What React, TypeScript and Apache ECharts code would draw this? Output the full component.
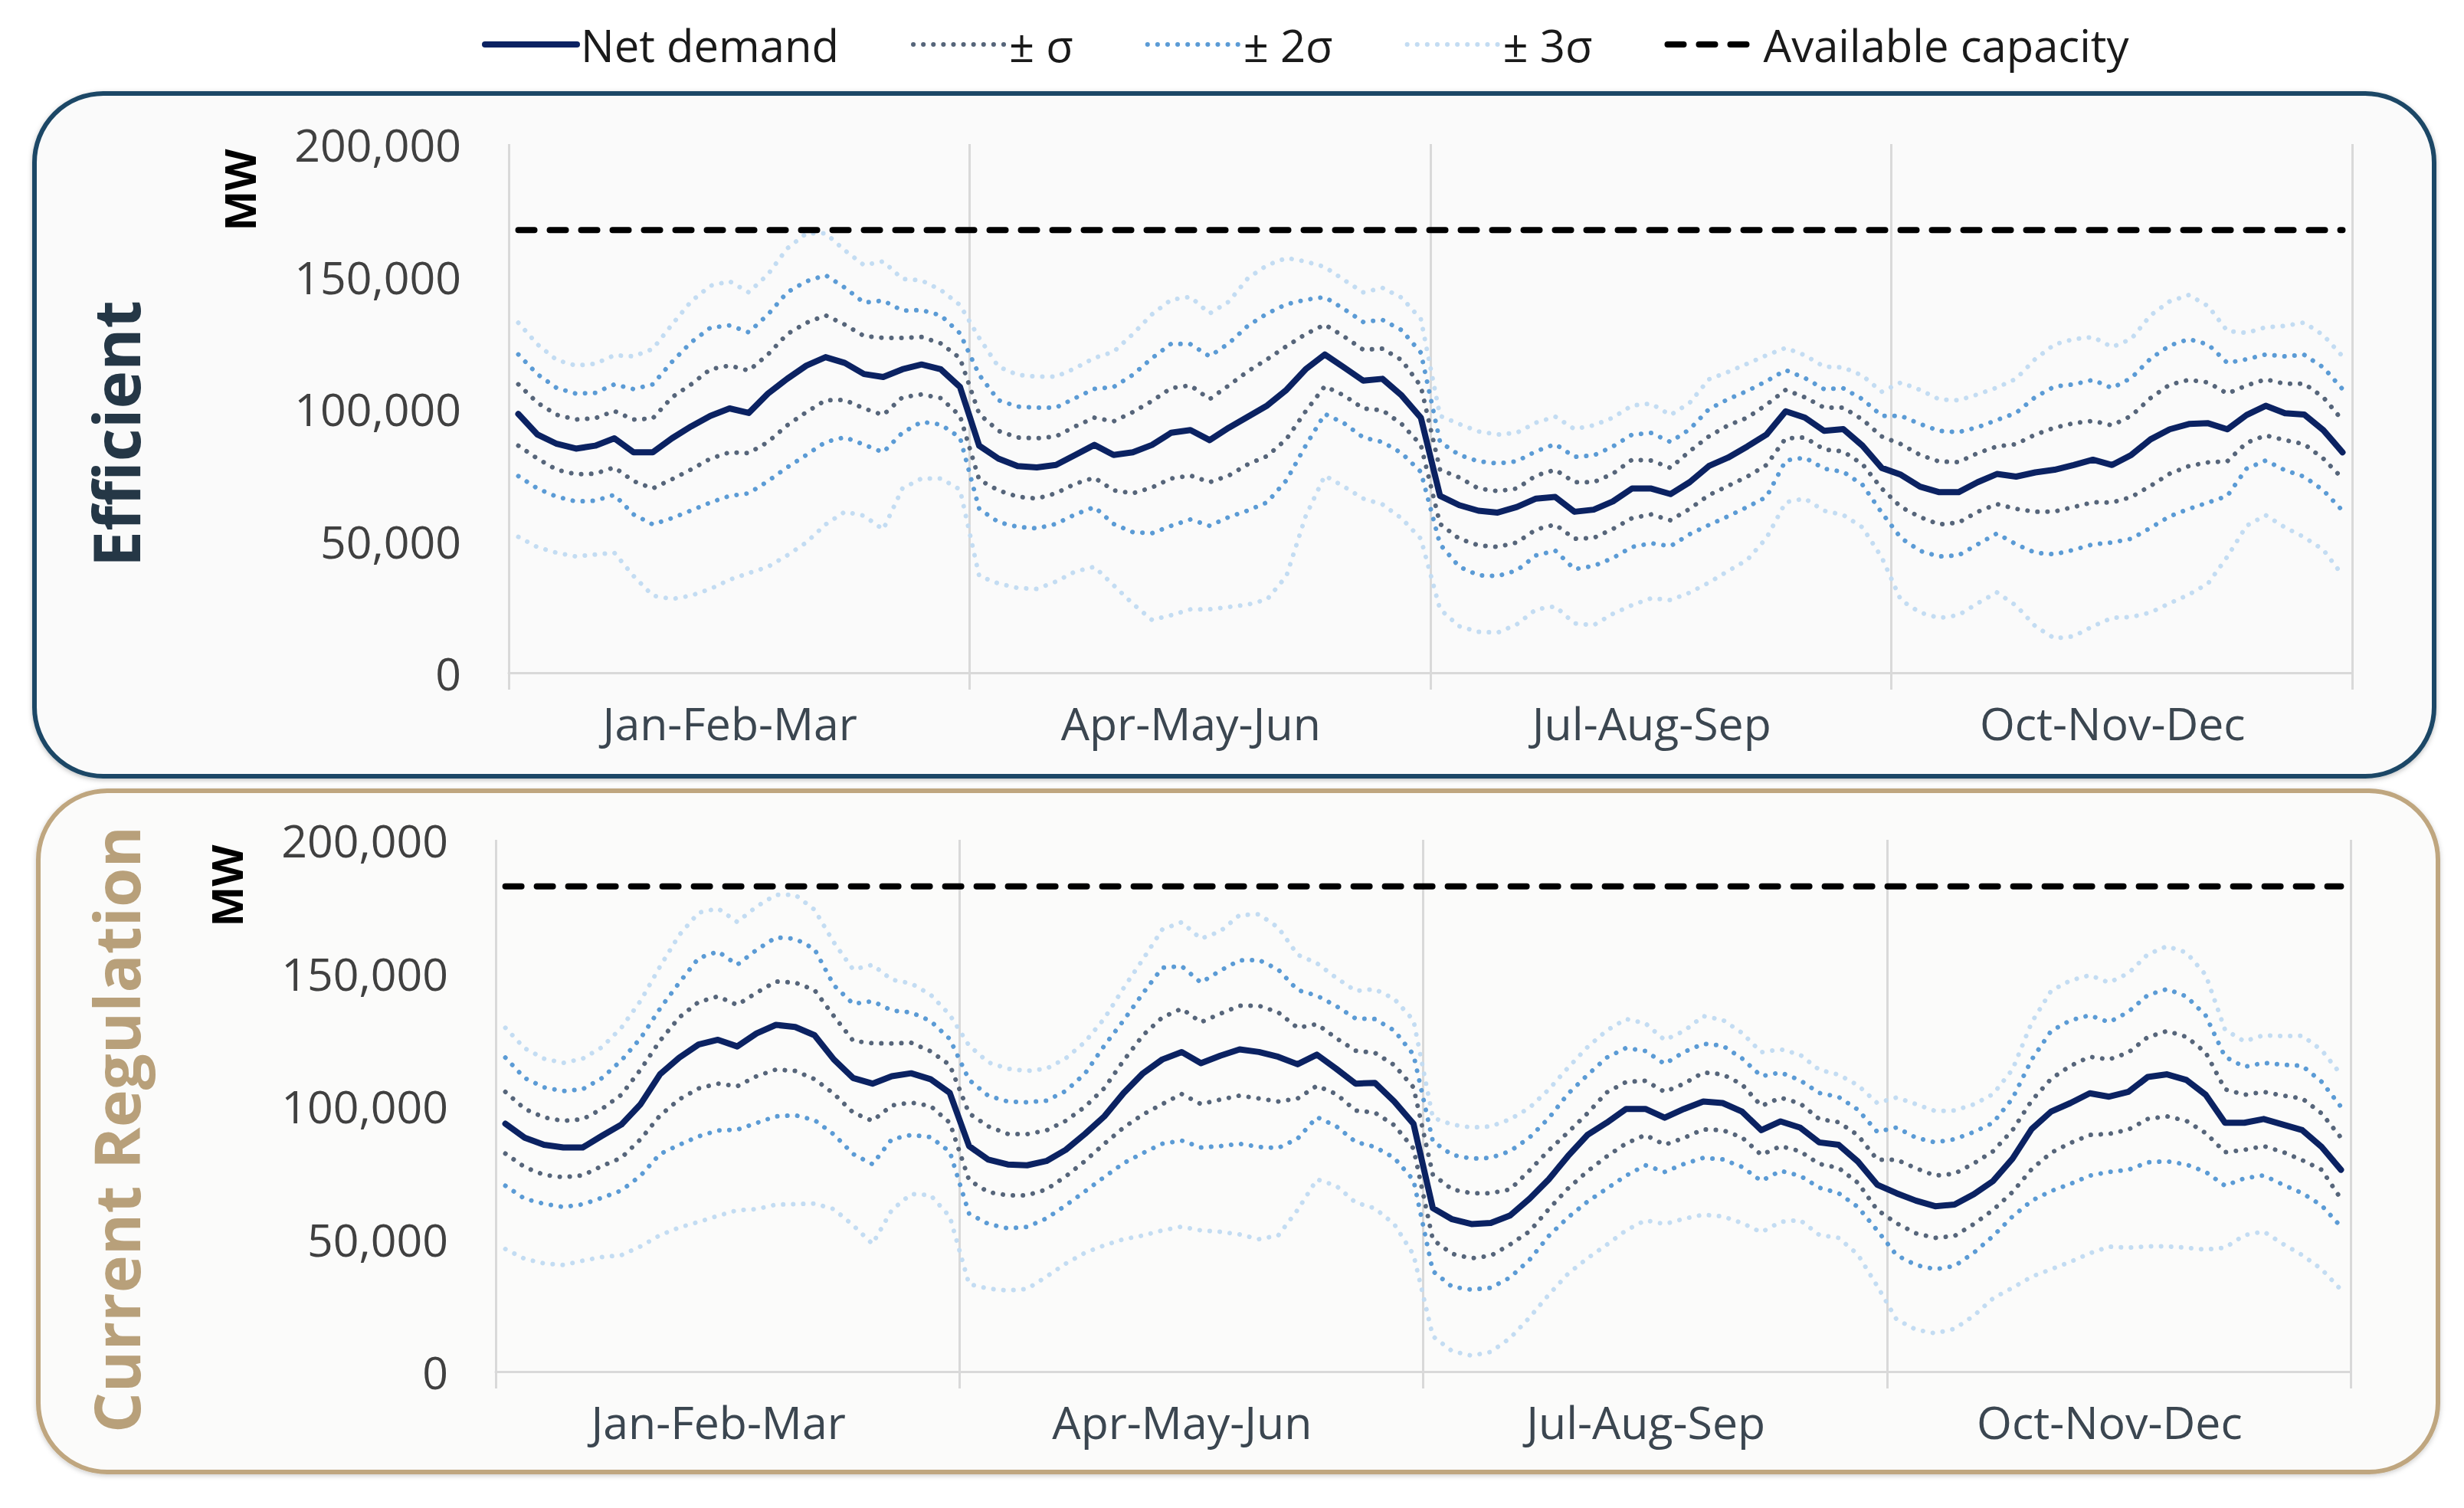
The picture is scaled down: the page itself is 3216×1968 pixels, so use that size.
import React, { useEffect, useRef } from "react";
import * as echarts from "echarts";

// ---------- categories & ticks ----------
const quarters = ["Jan-Feb-Mar", "Apr-May-Jun", "Jul-Aug-Sep", "Oct-Nov-Dec"];
const hours = [
  "00", "01", "02", "03", "04", "05", "06", "07", "08", "09", "10", "11",
  "12", "13", "14", "15", "16", "17", "18", "19", "20", "21", "22", "23",
];
const yMin = 0;
const yMax = 200000;
const yStep = 50000;

// ---------- values in thousand MW ----------
// Efficient
const effNet = [
  97.9, 90.1, 86.6, 84.8, 85.9, 88.7, 83.4, 83.4, 88.7, 93.2, 97.2, 100.0, 98.3, 105.6, 111.2, 116.2, 119.4, 117.2, 113.0, 111.9, 114.8, 116.6, 114.8, 108.1,
  85.9, 81.0, 78.2, 77.7, 78.6, 82.4, 86.2, 82.4, 83.4, 86.2, 90.8, 91.8, 88.0, 92.7, 96.9, 101.1, 107.0, 114.8, 120.4, 115.5, 110.5, 111.2, 104.9, 96.5,
  66.9, 63.4, 61.3, 60.6, 62.7, 65.9, 66.5, 60.9, 61.7, 64.8, 69.7, 69.7, 67.6, 72.1, 78.2, 81.4, 85.6, 90.1, 98.9, 96.5, 91.5, 92.2, 85.9, 77.5,
  74.9, 70.4, 68.3, 68.3, 72.1, 75.2, 74.2, 75.8, 76.8, 78.6, 80.6, 78.6, 82.4, 88.3, 92.1, 94.1, 94.4, 92.1, 97.5, 101.0, 98.2, 97.7, 91.8, 83.4,
];
const effS1Up = [
  109.1, 102.1, 97.6, 95.8, 96.3, 99.0, 95.8, 96.2, 104.2, 109.1, 114.8, 116.2, 114.3, 120.4, 128.1, 132.4, 135.2, 131.7, 127.4, 126.7, 126.7, 127.0, 124.6, 119.0,
  97.9, 91.5, 89.0, 88.7, 89.4, 93.2, 96.5, 95.1, 98.6, 102.8, 107.7, 108.7, 103.5, 108.7, 114.1, 118.6, 123.5, 128.1, 131.7, 127.2, 122.2, 122.6, 118.3, 108.4,
  76.8, 73.9, 69.7, 68.7, 69.7, 74.6, 76.8, 72.1, 72.1, 75.3, 80.6, 80.3, 77.5, 83.8, 89.4, 93.6, 96.5, 101.4, 107.0, 104.2, 100.3, 100.3, 95.8, 89.4,
  86.5, 82.4, 79.9, 79.7, 83.1, 85.6, 86.5, 90.1, 92.7, 94.4, 95.3, 93.6, 97.2, 103.9, 109.0, 110.8, 109.8, 105.6, 108.7, 111.0, 109.3, 109.4, 104.2, 95.5,
];
const effS1Lo = [
  85.9, 81.0, 76.8, 75.1, 75.3, 77.7, 72.5, 69.7, 73.2, 76.9, 81.0, 83.4, 83.1, 87.3, 93.6, 98.6, 103.1, 103.2, 100.0, 97.5, 104.2, 105.3, 103.9, 97.2,
  73.0, 69.0, 66.6, 65.9, 67.9, 71.5, 73.8, 69.0, 67.9, 70.1, 73.5, 74.6, 72.1, 74.6, 78.9, 82.0, 88.4, 98.9, 108.4, 104.9, 100.0, 99.3, 94.1, 86.2,
  56.3, 50.7, 48.2, 47.6, 49.3, 54.2, 56.1, 50.7, 51.0, 54.4, 58.5, 59.9, 57.7, 62.0, 67.2, 70.7, 74.2, 78.6, 88.7, 89.0, 84.5, 83.7, 78.9, 69.7,
  62.7, 58.9, 56.1, 56.8, 60.9, 63.8, 62.0, 60.9, 61.0, 62.7, 64.5, 64.4, 66.5, 70.7, 75.3, 78.2, 79.6, 80.0, 87.0, 89.8, 88.0, 86.5, 81.0, 73.5,
];
const effS2Up = [
  120.4, 112.9, 107.7, 105.6, 105.9, 109.1, 107.3, 109.1, 117.6, 125.0, 130.5, 131.4, 128.8, 135.5, 143.9, 148.1, 150.4, 145.7, 140.0, 140.8, 137.0, 137.2, 135.2, 128.4,
  112.7, 103.1, 100.7, 100.3, 100.3, 103.9, 107.4, 108.1, 112.7, 119.0, 124.5, 124.3, 119.7, 124.6, 131.3, 135.9, 139.4, 141.1, 142.1, 137.6, 132.7, 133.5, 129.6, 121.1,
  87.3, 82.4, 80.0, 79.2, 80.0, 83.8, 86.5, 81.7, 82.2, 85.6, 90.1, 90.7, 87.3, 92.1, 99.7, 103.5, 106.6, 110.3, 114.5, 111.5, 107.3, 107.6, 103.5, 97.2,
  97.2, 94.1, 91.5, 91.0, 92.9, 95.6, 98.3, 104.3, 108.3, 109.1, 110.8, 107.7, 111.5, 118.8, 123.8, 126.2, 124.2, 117.2, 118.6, 120.4, 119.7, 120.3, 115.5, 107.3,
];
const effS2Lo = [
  74.4, 69.7, 66.6, 64.8, 65.1, 67.3, 59.9, 56.1, 58.5, 61.4, 64.4, 66.9, 67.9, 72.5, 77.7, 82.4, 87.3, 89.1, 86.3, 83.4, 90.8, 94.9, 93.9, 89.0,
  62.0, 57.0, 55.2, 54.6, 56.3, 59.9, 62.7, 56.3, 53.2, 52.8, 55.6, 58.0, 55.6, 58.9, 61.4, 64.5, 72.8, 85.9, 97.9, 94.4, 89.0, 87.3, 83.1, 76.0,
  48.6, 40.1, 36.9, 36.6, 38.7, 44.4, 46.2, 39.2, 40.4, 43.4, 47.6, 49.0, 47.9, 52.4, 55.9, 59.2, 62.7, 66.5, 80.3, 81.4, 77.2, 76.0, 71.1, 60.6,
  51.0, 46.1, 44.0, 44.4, 48.6, 52.7, 48.6, 45.4, 44.8, 46.5, 48.6, 49.3, 50.7, 54.8, 59.2, 62.0, 64.4, 66.9, 77.2, 80.3, 76.6, 74.2, 69.0, 61.3,
];
const effS3Up = [
  132.4, 124.2, 118.3, 116.2, 116.9, 120.1, 119.7, 122.5, 131.7, 140.5, 146.4, 148.1, 143.9, 150.7, 160.5, 166.2, 166.2, 159.8, 154.2, 155.6, 149.0, 148.4, 144.8, 139.1,
  126.7, 115.8, 112.7, 112.0, 112.0, 115.2, 119.1, 121.4, 128.1, 135.6, 141.1, 142.2, 135.9, 140.4, 149.3, 154.2, 156.9, 155.6, 153.5, 148.6, 143.9, 145.6, 141.9, 133.8,
  97.2, 94.1, 91.3, 90.1, 90.8, 94.6, 96.9, 92.2, 93.6, 96.5, 101.1, 101.8, 97.5, 102.1, 111.0, 113.8, 116.9, 120.1, 122.9, 120.1, 115.8, 115.5, 112.4, 106.3,
  109.8, 107.0, 103.4, 103.1, 105.3, 107.9, 111.2, 118.7, 124.2, 126.2, 127.0, 123.2, 126.3, 135.2, 140.5, 142.9, 138.7, 129.3, 128.6, 130.7, 131.2, 132.5, 127.7, 119.7,
];
const effS3Lo = [
  51.4, 47.5, 45.4, 44.0, 44.7, 45.4, 36.6, 29.2, 27.9, 29.2, 31.7, 35.2, 37.7, 40.1, 44.4, 49.3, 56.1, 60.9, 59.4, 54.2, 69.7, 73.5, 73.5, 69.3,
  36.6, 33.8, 32.1, 31.7, 34.5, 38.3, 40.1, 33.1, 26.1, 20.0, 21.8, 24.0, 24.0, 24.9, 25.8, 27.8, 36.6, 59.2, 74.6, 70.4, 65.9, 63.7, 58.4, 50.7,
  24.0, 17.6, 15.5, 15.2, 18.3, 24.0, 25.1, 18.7, 18.0, 22.3, 25.6, 28.2, 27.5, 30.3, 34.1, 38.5, 42.7, 51.0, 64.5, 65.9, 61.3, 59.7, 55.0, 43.7,
  27.5, 22.8, 20.7, 21.8, 26.3, 30.4, 25.4, 17.6, 13.0, 13.8, 17.6, 20.8, 21.1, 22.8, 26.3, 29.6, 33.8, 43.9, 55.6, 59.6, 55.0, 51.3, 46.5, 36.9,
];
const effCapacity = 167.5;

// Current Regulation
const regNet = [
  93.2, 88.0, 85.3, 84.3, 84.3, 88.7, 92.9, 100.6, 111.8, 118.1, 123.0, 124.8, 122.3, 127.2, 130.4, 129.6, 126.5, 117.4, 110.4, 108.3, 111.1, 112.2, 110.0, 104.8,
  84.8, 79.7, 77.9, 77.6, 79.2, 83.4, 89.4, 96.0, 104.8, 112.2, 117.4, 120.2, 116.0, 118.8, 121.2, 120.2, 118.4, 115.6, 119.2, 113.9, 108.3, 108.6, 101.6, 93.2,
  61.5, 57.3, 55.5, 55.9, 58.7, 65.0, 72.3, 81.1, 89.0, 93.6, 98.8, 98.8, 95.5, 98.8, 101.6, 101.0, 97.8, 90.8, 94.1, 91.8, 86.2, 85.3, 79.0, 70.3,
  67.1, 64.3, 62.2, 62.8, 66.7, 71.7, 80.1, 91.3, 97.8, 101.0, 104.7, 103.4, 105.2, 110.8, 111.8, 109.7, 104.1, 93.6, 93.6, 95.0, 92.9, 90.8, 84.5, 75.9,
];
const regS1Up = [
  105.2, 98.8, 95.6, 94.3, 94.9, 98.8, 104.1, 113.6, 124.4, 133.2, 139.0, 141.1, 137.9, 142.5, 146.7, 146.3, 143.5, 133.7, 124.4, 123.5, 123.4, 123.7, 120.5, 115.3,
  97.1, 92.2, 89.4, 89.3, 90.7, 94.3, 99.6, 106.6, 117.0, 126.5, 133.2, 136.5, 131.4, 134.6, 137.6, 137.6, 135.1, 129.3, 130.7, 125.4, 120.7, 119.9, 115.3, 106.9,
  74.1, 68.5, 67.1, 67.1, 68.5, 75.6, 83.2, 90.0, 97.1, 105.0, 108.9, 109.4, 105.2, 108.3, 112.5, 111.8, 108.0, 99.9, 103.0, 100.9, 95.0, 93.8, 88.9, 79.7,
  79.7, 76.5, 73.7, 74.4, 78.3, 82.9, 90.8, 102.0, 110.1, 115.0, 118.4, 117.4, 120.0, 125.8, 128.1, 125.9, 120.0, 106.2, 104.1, 105.2, 103.8, 102.7, 97.1, 88.0,
];
const regS1Lo = [
  82.0, 76.9, 74.0, 73.1, 73.8, 77.3, 80.4, 87.4, 96.3, 102.4, 106.5, 108.3, 107.3, 111.1, 113.6, 113.1, 110.0, 104.5, 97.4, 94.3, 100.1, 101.2, 99.9, 93.6,
  72.0, 67.5, 66.3, 66.3, 68.5, 73.4, 79.2, 85.7, 91.8, 96.7, 100.6, 104.4, 100.6, 102.3, 103.8, 102.7, 101.6, 102.7, 107.5, 104.4, 98.2, 97.4, 92.7, 83.9,
  49.6, 44.3, 42.6, 43.6, 47.8, 52.7, 61.1, 68.9, 75.3, 80.9, 85.8, 89.0, 85.3, 87.9, 91.1, 90.8, 88.1, 81.5, 84.8, 82.9, 78.1, 76.6, 71.0, 60.8,
  55.8, 52.0, 50.3, 51.0, 55.5, 60.8, 67.5, 76.2, 82.3, 86.0, 89.0, 89.4, 91.0, 95.0, 96.0, 94.3, 89.7, 82.5, 83.4, 84.8, 82.6, 79.5, 75.9, 65.0,
];
const regS2Up = [
  118.1, 110.4, 106.9, 105.5, 106.2, 110.4, 117.0, 125.4, 136.5, 146.3, 155.5, 158.0, 153.0, 158.6, 163.3, 162.8, 158.9, 145.3, 138.3, 139.3, 135.8, 135.1, 131.9, 125.1,
  109.7, 103.7, 101.6, 101.3, 101.9, 105.5, 112.1, 122.6, 132.1, 142.3, 151.9, 152.5, 146.3, 150.8, 154.7, 154.8, 151.2, 143.5, 141.4, 137.5, 132.8, 132.6, 128.3, 119.2,
  86.6, 81.5, 80.1, 80.4, 82.9, 88.0, 95.3, 104.5, 111.5, 118.1, 121.7, 120.6, 115.7, 120.2, 123.3, 122.6, 117.8, 111.1, 112.5, 109.6, 104.8, 103.3, 98.5, 90.2,
  91.8, 88.0, 86.2, 87.4, 90.1, 93.6, 102.7, 117.4, 128.1, 132.1, 134.0, 131.4, 135.3, 141.6, 143.9, 141.1, 133.9, 118.4, 114.6, 116.1, 115.4, 115.0, 109.0, 99.6,
];
const regS2Lo = [
  69.9, 65.0, 63.1, 61.9, 62.9, 65.4, 68.1, 73.7, 81.8, 85.3, 88.5, 90.7, 91.0, 93.5, 96.0, 96.4, 94.6, 89.2, 81.8, 78.0, 87.4, 89.0, 88.2, 82.7,
  59.4, 55.5, 53.9, 54.4, 57.6, 62.5, 67.8, 73.2, 78.4, 82.2, 85.7, 86.9, 84.3, 84.8, 85.7, 84.5, 84.1, 87.6, 95.7, 92.3, 86.4, 84.5, 80.4, 72.0,
  37.8, 31.9, 30.8, 31.5, 35.4, 42.0, 51.0, 58.0, 63.9, 68.8, 73.7, 77.6, 75.1, 78.1, 80.4, 79.8, 77.0, 71.7, 75.5, 73.7, 69.2, 67.1, 61.9, 53.1,
  43.8, 40.1, 38.5, 39.7, 44.7, 51.0, 58.3, 64.3, 67.9, 70.6, 73.7, 75.1, 75.9, 78.7, 79.1, 77.9, 75.1, 69.9, 72.7, 73.8, 70.3, 67.1, 62.5, 54.5,
];
const regS3Up = [
  129.3, 121.6, 117.7, 116.1, 117.7, 122.0, 129.3, 139.5, 152.3, 164.2, 172.6, 174.2, 169.1, 174.9, 179.3, 179.3, 173.7, 161.4, 151.2, 153.0, 147.4, 146.0, 141.8, 134.2,
  122.6, 116.3, 113.9, 113.1, 113.9, 117.8, 124.0, 132.8, 144.3, 155.1, 166.3, 169.0, 162.8, 165.6, 171.7, 172.0, 167.0, 156.8, 153.6, 148.1, 143.2, 143.8, 140.2, 132.1,
  95.5, 92.9, 91.8, 92.2, 94.9, 99.2, 106.1, 114.3, 122.0, 128.3, 132.6, 131.0, 124.7, 128.1, 133.7, 132.3, 127.4, 120.1, 121.2, 119.2, 113.5, 111.7, 107.7, 101.0,
  103.1, 100.6, 98.0, 98.2, 100.5, 104.4, 113.6, 131.4, 143.2, 147.1, 149.1, 146.3, 149.8, 156.9, 160.0, 157.6, 149.2, 128.6, 124.2, 126.5, 126.2, 126.3, 120.9, 111.8,
];
const regS3Lo = [
  46.1, 42.4, 40.7, 40.1, 41.7, 43.1, 43.8, 47.1, 51.3, 54.2, 56.3, 58.6, 60.7, 61.1, 62.8, 63.0, 63.2, 61.1, 55.0, 48.0, 60.8, 66.8, 66.4, 58.3,
  32.9, 31.2, 30.5, 31.1, 35.7, 40.6, 44.7, 47.5, 49.8, 51.2, 53.1, 54.5, 53.1, 52.6, 51.6, 49.8, 51.2, 60.8, 72.3, 69.9, 63.6, 61.4, 55.5, 44.0,
  13.3, 7.7, 6.0, 7.4, 12.6, 20.3, 28.9, 36.8, 42.6, 47.7, 53.1, 56.9, 55.5, 57.5, 59.0, 58.4, 55.9, 52.4, 56.3, 57.0, 51.4, 50.3, 44.0, 32.2,
  19.6, 15.8, 14.4, 16.1, 21.0, 27.6, 31.5, 35.7, 38.5, 41.3, 44.5, 47.0, 46.6, 47.1, 47.1, 46.6, 45.9, 46.6, 51.3, 52.7, 48.0, 43.8, 38.5, 30.8,
];
const regCapacity = 182.5;

const MW_PER_UNIT = 1000; // arrays above are in thousand MW

// ---------- styling ----------
const FONT = '"Open Sans", "Noto Sans", sans-serif';
const NET_COLOR = "#0b2262";
const S1_COLOR = "#56657a";
const S2_COLOR = "#5b9bd5";
const S3_COLOR = "#c3dcf2";
const CAP_COLOR = "#000000";
const GRID_COLOR = "#d9d9d9";
const DOT = [0.1, 13];

const NAMES = {
  net: "Net demand",
  s1: "± σ",
  s2: "± 2σ",
  s3: "± 3σ",
  cap: "Available capacity",
};

const categories = quarters.flatMap((q) => hours.map((h) => `${q} ${h}`));

function toMW(arr: number[]) {
  return arr.map((v) => Math.round(v * MW_PER_UNIT));
}

function dotted(color: string) {
  return { color, width: 6, type: DOT, cap: "round", join: "round" };
}

function panelSeries(
  idx: number,
  d: {
    net: number[]; s1u: number[]; s1l: number[]; s2u: number[]; s2l: number[];
    s3u: number[]; s3l: number[]; cap: number;
  }
) {
  const base = {
    type: "line",
    xAxisIndex: idx * 2,
    yAxisIndex: idx,
    symbol: "none",
    silent: true,
  };
  const capMW = d.cap * MW_PER_UNIT;
  return [
    { ...base, name: NAMES.s3, data: toMW(d.s3u), lineStyle: dotted(S3_COLOR), itemStyle: { color: S3_COLOR }, z: 2 },
    { ...base, name: NAMES.s3, data: toMW(d.s3l), lineStyle: dotted(S3_COLOR), itemStyle: { color: S3_COLOR }, z: 2 },
    { ...base, name: NAMES.s2, data: toMW(d.s2u), lineStyle: dotted(S2_COLOR), itemStyle: { color: S2_COLOR }, z: 3 },
    { ...base, name: NAMES.s2, data: toMW(d.s2l), lineStyle: dotted(S2_COLOR), itemStyle: { color: S2_COLOR }, z: 3 },
    { ...base, name: NAMES.s1, data: toMW(d.s1u), lineStyle: dotted(S1_COLOR), itemStyle: { color: S1_COLOR }, z: 4 },
    { ...base, name: NAMES.s1, data: toMW(d.s1l), lineStyle: dotted(S1_COLOR), itemStyle: { color: S1_COLOR }, z: 4 },
    {
      ...base, name: NAMES.net, data: toMW(d.net),
      lineStyle: { color: NET_COLOR, width: 8, cap: "round", join: "round" },
      itemStyle: { color: NET_COLOR }, z: 5,
    },
    {
      ...base, name: NAMES.cap,
      data: [[categories[0], capMW], [categories[categories.length - 1], capMW]],
      lineStyle: { color: CAP_COLOR, width: 8, type: [21, 20], cap: "round" },
      itemStyle: { color: CAP_COLOR }, z: 6,
    },
  ];
}

function axesFor(gridIndex: number) {
  const x = [
    { type: "category", gridIndex, data: categories, boundaryGap: true, show: false },
    {
      type: "category", gridIndex, data: quarters, boundaryGap: true, position: "bottom",
      axisLine: { show: true, lineStyle: { color: GRID_COLOR, width: 3 } },
      axisTick: { show: true, length: 22, lineStyle: { color: GRID_COLOR, width: 3 } },
      splitLine: { show: true, lineStyle: { color: GRID_COLOR, width: 3 } },
      axisLabel: {
        fontSize: 59, color: "#3b4650", margin: 35, fontFamily: FONT,
        padding: [0, 24, 0, 0],
      },
    },
  ];
  const y = {
    type: "value", gridIndex, min: yMin, max: yMax, interval: yStep,
    axisLine: { show: false }, axisTick: { show: false }, splitLine: { show: false },
    axisLabel: {
      fontSize: 59, color: "#404040", margin: 62, fontFamily: FONT,
      formatter: (v: number) => v.toLocaleString("en-US"),
    },
  };
  return { x, y };
}

const hiddenSymbol = { opacity: 0 };

export default function App() {
  const ref = useRef<HTMLDivElement>(null);
  useEffect(() => {
    if (!ref.current) return;
    const chart = echarts.init(ref.current, null, { renderer: "svg" });
    const a0 = axesFor(0);
    const a1 = axesFor(1);
    const option = {
      animation: false,
      backgroundColor: "#ffffff",
      textStyle: { fontFamily: FONT },
      legend: {
        left: 624,
        top: 24,
        itemWidth: 120,
        itemHeight: 20,
        itemGap: 94,
        selectedMode: false,
        textStyle: { fontSize: 58, color: "#1a1a1a", fontFamily: FONT },
        data: [
          { name: NAMES.net, lineStyle: { width: 8 }, itemStyle: hiddenSymbol },
          { name: NAMES.s1, lineStyle: { width: 6 }, itemStyle: hiddenSymbol },
          { name: NAMES.s2, lineStyle: { width: 6 }, itemStyle: hiddenSymbol },
          { name: NAMES.s3, lineStyle: { width: 6 }, itemStyle: hiddenSymbol },
          { name: NAMES.cap, lineStyle: { width: 8 }, itemStyle: hiddenSymbol },
        ],
      },
      grid: [
        { left: 664, right: 146, top: 188, height: 690 },
        { left: 647, right: 148, top: 1096, height: 694 },
      ],
      xAxis: [...a0.x, ...a1.x],
      yAxis: [a0.y, a1.y],
      graphic: [
        {
          type: "rect", z: -10, silent: true,
          shape: { x: 45, y: 122, width: 3132, height: 891, r: 90 },
          style: { fill: "#fafafa", stroke: "#1b4766", lineWidth: 6, shadowBlur: 6, shadowColor: "rgba(0,0,0,0.25)", shadowOffsetY: 2 },
        },
        {
          type: "rect", z: -10, silent: true,
          shape: { x: 50, y: 1032, width: 3132, height: 889, r: 90 },
          style: { fill: "#fbfbfa", stroke: "#bfa67f", lineWidth: 6, shadowBlur: 6, shadowColor: "rgba(0,0,0,0.2)", shadowOffsetY: 2 },
        },
        {
          type: "text", x: 150, y: 566, rotation: Math.PI / 2, silent: true,
          style: { text: "Efficient", font: `bold 84px ${FONT}`, fill: "#253746", align: "center", verticalAlign: "middle" },
        },
        {
          type: "text", x: 312, y: 248, rotation: Math.PI / 2, silent: true,
          style: { text: "MW", font: `bold 56px ${FONT}`, fill: "#000000", align: "center", verticalAlign: "middle" },
        },
        {
          type: "text", x: 150, y: 1474, rotation: Math.PI / 2, silent: true,
          style: { text: "Current Regulation", font: `bold 83px ${FONT}`, fill: "#b8a07a", align: "center", verticalAlign: "middle" },
        },
        {
          type: "text", x: 295, y: 1156, rotation: Math.PI / 2, silent: true,
          style: { text: "MW", font: `bold 56px ${FONT}`, fill: "#000000", align: "center", verticalAlign: "middle" },
        },
      ],
      series: [
        ...panelSeries(0, { net: effNet, s1u: effS1Up, s1l: effS1Lo, s2u: effS2Up, s2l: effS2Lo, s3u: effS3Up, s3l: effS3Lo, cap: effCapacity }),
        ...panelSeries(1, { net: regNet, s1u: regS1Up, s1l: regS1Lo, s2u: regS2Up, s2l: regS2Lo, s3u: regS3Up, s3l: regS3Lo, cap: regCapacity }),
      ],
    };
    chart.setOption(option as any);
    return () => chart.dispose();
  }, []);
  return (
    <div
      ref={ref}
      style={{ position: "absolute", left: 0, top: 0, width: 3216, height: 1968, background: "#ffffff" }}
    />
  );
}
